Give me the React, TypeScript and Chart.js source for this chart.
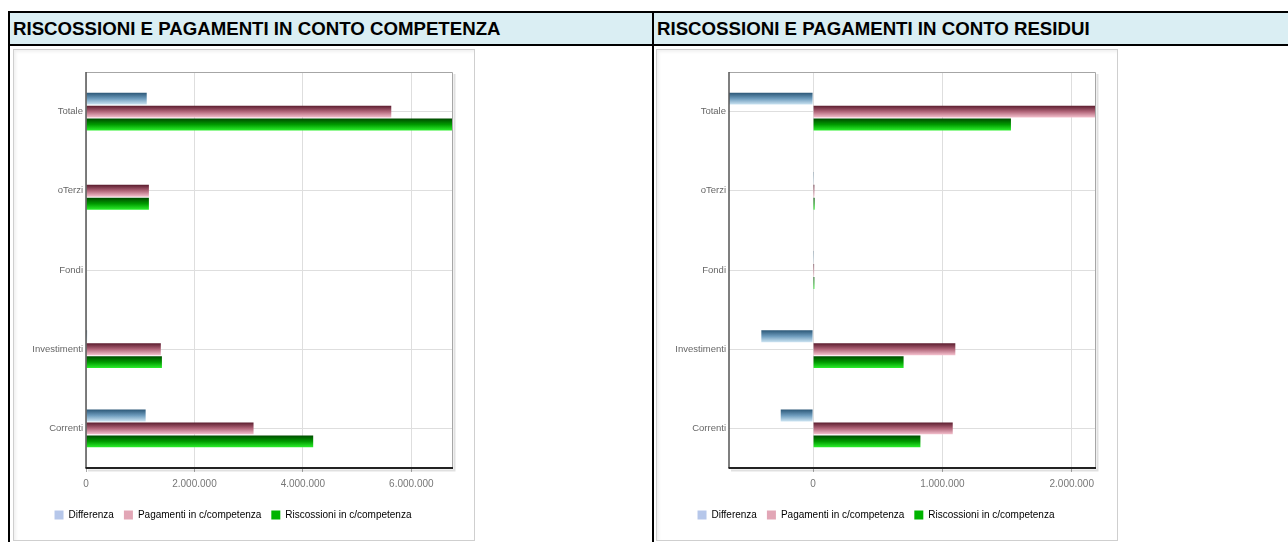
import React, { useEffect, useRef } from 'react';
import { Chart, registerables } from 'chart.js';

Chart.register(...registerables);

// ---------- data ----------
const CATEGORIES = ['Totale', 'oTerzi', 'Fondi', 'Investimenti', 'Correnti'];
const SERIES_NAMES = ['Differenza', 'Pagamenti in c/competenza', 'Riscossioni in c/competenza'];

const COMP_DIFFERENZA = [1120000, 0, 0, 20000, 1100000];
const COMP_PAGAMENTI = [5630000, 1160000, 0, 1380000, 3090000];
const COMP_RISCOSSIONI = [6750000, 1160000, 0, 1400000, 4190000];

const RES_DIFFERENZA = [-650000, 2000, 2000, -400000, -250000];
const RES_PAGAMENTI = [2180000, 10000, 8000, 1100000, 1080000];
const RES_RISCOSSIONI = [1530000, 12000, 10000, 700000, 830000];

const COMP_TICKS = [0, 2000000, 4000000, 6000000];
const RES_TICKS = [0, 1000000, 2000000];

const TITLE_COMP = 'RISCOSSIONI E PAGAMENTI IN CONTO COMPETENZA';
const TITLE_RES = 'RISCOSSIONI E PAGAMENTI IN CONTO RESIDUI';

// ---------- styles ----------
const FONT = '"Liberation Sans", Arial, Helvetica, sans-serif';
const GRADIENTS = [
  ['#2b5777', '#6e9cbd', '#cce4f2'],
  ['#5a1c2d', '#b16579', '#f5c2cf'],
  ['#004a00', '#009a00', '#2cf02c'],
];
const LEGEND_COLORS = ['#b6c7ea', '#e2a6b6', '#00b400'];
const CAT_PCT = 0.49;
const BAR_PCT = 0.92;

function fmt(v: number) {
  const s = Math.round(Math.abs(v)).toString().replace(/\B(?=(\d{3})+(?!\d))/g, '.');
  return (v < 0 ? '-' : '') + s;
}

function gradientFill(stops: string[]) {
  return (c: any) => {
    if (c.type !== 'data') return stops[1];
    const chart = c.chart;
    const y = chart.scales && chart.scales.y;
    if (!y) return stops[1];
    const band = Math.abs(y.getPixelForValue(1) - y.getPixelForValue(0)) || 1;
    const group = band * CAT_PCT;
    const chunk = group / 3;
    const center = y.getPixelForValue(c.dataIndex) - group / 2 + chunk * (c.datasetIndex + 0.5);
    const half = (chunk * BAR_PCT) / 2;
    const g = chart.ctx.createLinearGradient(0, center - half, 0, center + half);
    g.addColorStop(0, stops[0]);
    g.addColorStop(0.5, stops[1]);
    g.addColorStop(1, stops[2]);
    return g;
  };
}

const plotFrame = {
  id: 'plotFrame',
  afterDatasetsDraw(chart: any) {
    const { ctx, chartArea: a } = chart;
    ctx.save();
    ctx.strokeStyle = 'rgba(0,0,0,0.12)';
    ctx.lineWidth = 2;
    ctx.beginPath();
    ctx.moveTo(a.left + 2, a.bottom + 2.5);
    ctx.lineTo(a.right + 2.5, a.bottom + 2.5);
    ctx.lineTo(a.right + 2.5, a.top + 2);
    ctx.stroke();
    ctx.strokeStyle = '#a6a6a6';
    ctx.lineWidth = 1;
    ctx.beginPath();
    ctx.moveTo(a.left, a.top + 0.5);
    ctx.lineTo(a.right + 0.5, a.top + 0.5);
    ctx.lineTo(a.right + 0.5, a.bottom);
    ctx.stroke();
    ctx.strokeStyle = '#555';
    ctx.lineWidth = 1.5;
    ctx.beginPath();
    ctx.moveTo(a.left, a.top);
    ctx.lineTo(a.left, a.bottom);
    ctx.stroke();
    ctx.strokeStyle = '#222';
    ctx.lineWidth = 2;
    ctx.beginPath();
    ctx.moveTo(a.left - 0.5, a.bottom);
    ctx.lineTo(a.right + 1, a.bottom);
    ctx.stroke();
    ctx.restore();
  },
};

function BarPanel({ series, tickValues }: { series: number[][]; tickValues: number[] }) {
  const ref = useRef<HTMLCanvasElement>(null);
  useEffect(() => {
    const all = series.flat();
    const min = Math.min(0, ...all);
    const max = Math.max(...all);
    const chart = new Chart(ref.current as HTMLCanvasElement, {
      type: 'bar',
      data: {
        labels: CATEGORIES,
        datasets: series.map((d, i) => ({
          label: SERIES_NAMES[i],
          data: d,
          backgroundColor: gradientFill(GRADIENTS[i]) as any,
          borderWidth: 0,
          categoryPercentage: CAT_PCT,
          barPercentage: BAR_PCT,
        })),
      },
      options: {
        indexAxis: 'y',
        animation: false,
        responsive: false,
        maintainAspectRatio: false,
        layout: { padding: { top: 22, right: 22, bottom: 10, left: 0 } },
        plugins: {
          tooltip: { enabled: false },
          legend: {
            position: 'bottom',
            align: 'center',
            labels: {
              boxWidth: 9,
              boxHeight: 9,
              padding: 10,
              color: '#666',
              font: { family: FONT, size: 10 },
              generateLabels: () =>
                SERIES_NAMES.map((n, i) => ({
                  text: n,
                  fillStyle: LEGEND_COLORS[i],
                  strokeStyle: LEGEND_COLORS[i],
                  lineWidth: 0,
                  hidden: false,
                  datasetIndex: i,
                })),
            },
          },
        },
        scales: {
          x: {
            type: 'linear',
            min,
            max,
            grid: { color: '#dedede', drawTicks: true, tickLength: 4, tickColor: '#aaa' },
            border: { display: false },
            afterBuildTicks: (s: any) => {
              s.ticks = tickValues.map((v) => ({ value: v }));
            },
            ticks: {
              padding: 6,
              color: '#777',
              maxRotation: 0,
              autoSkip: false,
              font: { family: FONT, size: 10 },
              callback: (v: any) => fmt(Number(v)),
            },
            afterFit: (s: any) => {
              s.height = 32;
            },
          },
          y: {
            grid: { color: '#dedede', offset: false, drawTicks: false },
            border: { display: false },
            ticks: { padding: 3, color: '#666', font: { family: FONT, size: 9.5 } },
            afterFit: (s: any) => {
              s.width = 72;
            },
          },
        },
      } as any,
      plugins: [plotFrame],
    });
    return () => chart.destroy();
  }, []);
  return (
    <canvas
      ref={ref}
      width={460}
      height={490}
      style={{ display: 'block', width: 460, height: 490 }}
    />
  );
}

const abs = (l: number, t: number, w: number, h: number, extra: any = {}) => ({
  position: 'absolute' as const,
  left: l,
  top: t,
  width: w,
  height: h,
  ...extra,
});

export default function App() {
  const headerText = {
    fontFamily: FONT,
    fontWeight: 'bold' as const,
    fontSize: 18.67,
    lineHeight: '31px',
    color: '#000',
    whiteSpace: 'nowrap' as const,
  };
  const box = {
    border: '1px solid #cfcfcf',
    boxSizing: 'border-box' as const,
    background: '#fff',
    boxShadow: 'inset 2px 2px 3px rgba(0,0,0,0.06)',
  };
  return (
    <div style={{ position: 'fixed', inset: 0, overflow: 'hidden', background: '#fff' }}>
      <div style={abs(10, 13, 642, 31, { background: '#DAEEF3' })} />
      <div style={abs(654, 13, 640, 31, { background: '#DAEEF3' })} />
      <div style={abs(8, 11, 1290, 2, { background: '#000' })} />
      <div style={abs(8, 44, 1290, 2, { background: '#000' })} />
      <div style={abs(8, 11, 2, 540, { background: '#000' })} />
      <div style={abs(652, 11, 2, 540, { background: '#000' })} />
      <div style={abs(13, 13, 630, 31, headerText)}>{TITLE_COMP}</div>
      <div style={abs(657, 13, 620, 31, headerText)}>{TITLE_RES}</div>
      <div style={abs(13, 49, 462, 492, box)}>
        <BarPanel series={[COMP_DIFFERENZA, COMP_PAGAMENTI, COMP_RISCOSSIONI]} tickValues={COMP_TICKS} />
      </div>
      <div style={abs(656, 49, 462, 492, box)}>
        <BarPanel series={[RES_DIFFERENZA, RES_PAGAMENTI, RES_RISCOSSIONI]} tickValues={RES_TICKS} />
      </div>
    </div>
  );
}
